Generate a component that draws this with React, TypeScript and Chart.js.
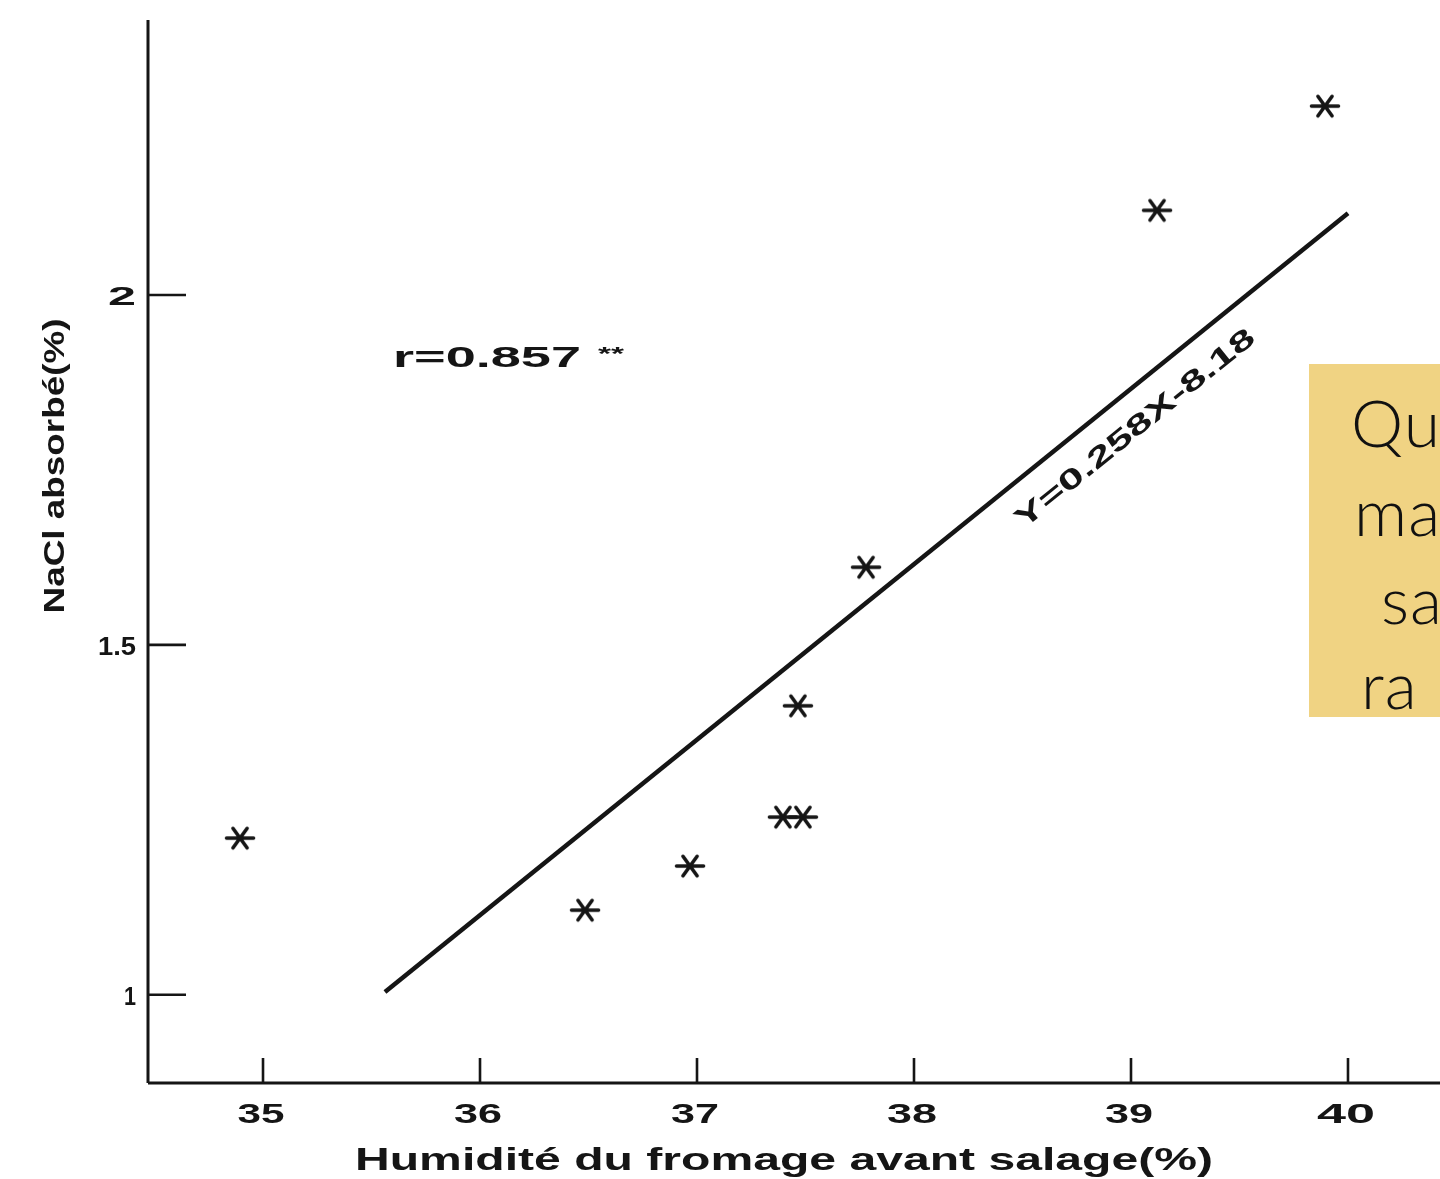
import React, { useEffect, useRef } from "react";
import { Chart, registerables } from "chart.js";

Chart.register(...registerables);

// ---- data ----
const xTicks = [35, 36, 37, 38, 39, 40];
const xTickLabels = ["35", "36", "37", "38", "39", "40"];
const yTicks = [1, 1.5, 2];
const yTickLabels = ["1", "1.5", "2"];
const pointX = [34.894, 36.484, 36.968, 37.396, 37.488, 37.465, 37.779, 39.12, 39.894];
const pointY = [1.224, 1.121, 1.184, 1.254, 1.254, 1.413, 1.611, 2.121, 2.27];
const lineX = [35.562, 40.0];
const lineY = [1.004, 2.117];
const xTitle = "Humidité du fromage avant salage(%)";
const yTitle = "NaCl absorbé(%)";
const rText = "r=0.857";
const rSup = "**";
const eqText = "Y=0.258X-8.18";
const boxLines = ["Qu", "ma", "sa", "ra"];

const INK = "#151515";
const FONT = '"Liberation Sans", Arial, sans-serif';

function makeStar(): HTMLCanvasElement {
  const c = document.createElement("canvas");
  c.width = 32;
  c.height = 28;
  const g = c.getContext("2d")!;
  g.strokeStyle = INK;
  g.lineWidth = 3.6;
  g.lineCap = "round";
  const cx = 16, cy = 14;
  g.beginPath();
  g.moveTo(cx - 13.5, cy);
  g.lineTo(cx + 13.5, cy);
  for (const a of [Math.PI * 0.3, -Math.PI * 0.3]) {
    const dx = Math.cos(a) * 12, dy = Math.sin(a) * 12;
    g.moveTo(cx - dx, cy - dy);
    g.lineTo(cx + dx, cy + dy);
  }
  g.stroke();
  return c;
}

function drawFit(
  ctx: CanvasRenderingContext2D,
  text: string,
  x: number,
  y: number,
  font: string,
  width: number,
  align: "center" | "left" | "right" = "center",
  rot = 0
) {
  ctx.save();
  ctx.font = font;
  const w = ctx.measureText(text).width;
  ctx.translate(x, y);
  ctx.rotate(rot);
  ctx.scale(width / w, 1);
  ctx.textAlign = align;
  ctx.textBaseline = "alphabetic";
  ctx.fillStyle = INK;
  ctx.fillText(text, 0, 0);
  ctx.restore();
}

const decorPlugin = {
  id: "decor",
  afterDraw(chart: any) {
    const ctx: CanvasRenderingContext2D = chart.ctx;
    const xs = chart.scales.x;
    const ys = chart.scales.y;
    const ca = chart.chartArea;
    ctx.save();
    ctx.strokeStyle = INK;
    ctx.lineCap = "butt";
    // axes
    ctx.lineWidth = 3;
    ctx.beginPath();
    ctx.moveTo(ca.left, ca.top);
    ctx.lineTo(ca.left, ca.bottom);
    ctx.moveTo(ca.left, ca.bottom);
    ctx.lineTo(1440, ca.bottom);
    ctx.stroke();
    // inward ticks
    ctx.lineWidth = 2.6;
    ctx.beginPath();
    xTicks.forEach((v) => {
      const px = xs.getPixelForValue(v);
      ctx.moveTo(px, ca.bottom);
      ctx.lineTo(px, ca.bottom - 25);
    });
    yTicks.forEach((v) => {
      const py = ys.getPixelForValue(v);
      ctx.moveTo(ca.left, py);
      ctx.lineTo(ca.left + 38, py);
    });
    ctx.stroke();
    ctx.restore();

    // tick labels
    const xw = [47, 48, 48, 50, 48, 58];
    xTicks.forEach((v, i) => {
      drawFit(ctx, xTickLabels[i], xs.getPixelForValue(v) - 2, ca.bottom + 40, `bold 28px ${FONT}`, xw[i]);
    });
    const yw = [12, 38, 28];
    yTicks.forEach((v, i) => {
      drawFit(ctx, yTickLabels[i], ca.left - 12, ys.getPixelForValue(v) + 10, `bold 26px ${FONT}`, yw[i], "right");
    });

    // axis titles
    drawFit(ctx, xTitle, 784, 1170, `bold 31px ${FONT}`, 858);
    drawFit(ctx, yTitle, 64, 466, `bold 29px ${FONT}`, 295, "center", -Math.PI / 2);

    // annotations
    drawFit(ctx, rText, 393, 367, `bold 30px ${FONT}`, 188, "left");
    drawFit(ctx, rSup, 598, 360, `bold 18px ${FONT}`, 26, "left");

    const p0x = xs.getPixelForValue(lineX[0]);
    const p0y = ys.getPixelForValue(lineY[0]);
    const p1x = xs.getPixelForValue(lineX[1]);
    const p1y = ys.getPixelForValue(lineY[1]);
    const ang = Math.atan2(p1y - p0y, p1x - p0x);
    const t = 0.757;
    const bx = p0x + (p1x - p0x) * t;
    const by = p0y + (p1y - p0y) * t;
    const off = 42;
    const cx = bx - Math.sin(ang) * off;
    const cy = by + Math.cos(ang) * off;
    drawFit(ctx, eqText, cx, cy, `bold 28px ${FONT}`, 300, "center", ang);
  },
};

export default function App() {
  const ref = useRef<HTMLCanvasElement | null>(null);

  useEffect(() => {
    document.body.style.margin = "0";
    document.body.style.overflow = "hidden";
    const canvas = ref.current!;
    const star = makeStar();
    const pts = pointX.map((x, i) => ({ x, y: pointY[i] }));
    const line = lineX.map((x, i) => ({ x, y: lineY[i] }));
    const chart = new Chart(canvas, {
      type: "scatter",
      data: {
        datasets: [
          {
            data: line,
            showLine: true,
            borderColor: INK,
            borderWidth: 4.5,
            pointRadius: 0,
            pointHoverRadius: 0,
          } as any,
          {
            data: pts,
            pointStyle: star as any,
            pointRadius: 14,
            showLine: false,
          } as any,
        ],
      },
      options: {
        responsive: false,
        animation: false,
        devicePixelRatio: 1,
        layout: { autoPadding: false, padding: { top: 20, right: 0, left: 0, bottom: 0 } },
        plugins: { legend: { display: false }, tooltip: { enabled: false } },
        events: [],
        scales: {
          x: {
            type: "linear",
            min: 34.47,
            max: 40.424,
            grid: { display: false },
            border: { display: false },
            ticks: { display: false, includeBounds: false, stepSize: 1 },
            afterFit: (s: any) => {
              s.height = 96;
            },
          },
          y: {
            type: "linear",
            min: 0.874,
            max: 2.393,
            grid: { display: false },
            border: { display: false },
            ticks: { display: false, includeBounds: false, stepSize: 0.5 },
            afterFit: (s: any) => {
              s.width = 148;
            },
          },
        },
      } as any,
      plugins: [decorPlugin],
    });
    return () => chart.destroy();
  }, []);

  const lefts = [42, 45, 72, 52];
  const tops = [25, 114, 202, 287];

  return (
    <div
      style={{
        position: "fixed",
        left: 0,
        top: 0,
        width: 1440,
        height: 1179,
        overflow: "hidden",
        background: "#ffffff",
      }}
    >
      <canvas ref={ref} width={1440} height={1179} style={{ display: "block", width: 1440, height: 1179 }} />
      <div
        style={{
          position: "absolute",
          left: 1309,
          top: 364,
          width: 131,
          height: 353,
          background: "#F0D383",
          overflow: "hidden",
        }}
      >
        {boxLines.map((s, i) => (
          <div
            key={i}
            style={{
              position: "absolute",
              left: lefts[i],
              top: tops[i],
              fontFamily: "Lato, 'Open Sans', sans-serif",
              fontWeight: 300,
              fontSize: 66,
              lineHeight: "66px",
              color: "#111",
              whiteSpace: "nowrap",
              letterSpacing: 1,
            }}
          >
            {s}
          </div>
        ))}
      </div>
    </div>
  );
}
